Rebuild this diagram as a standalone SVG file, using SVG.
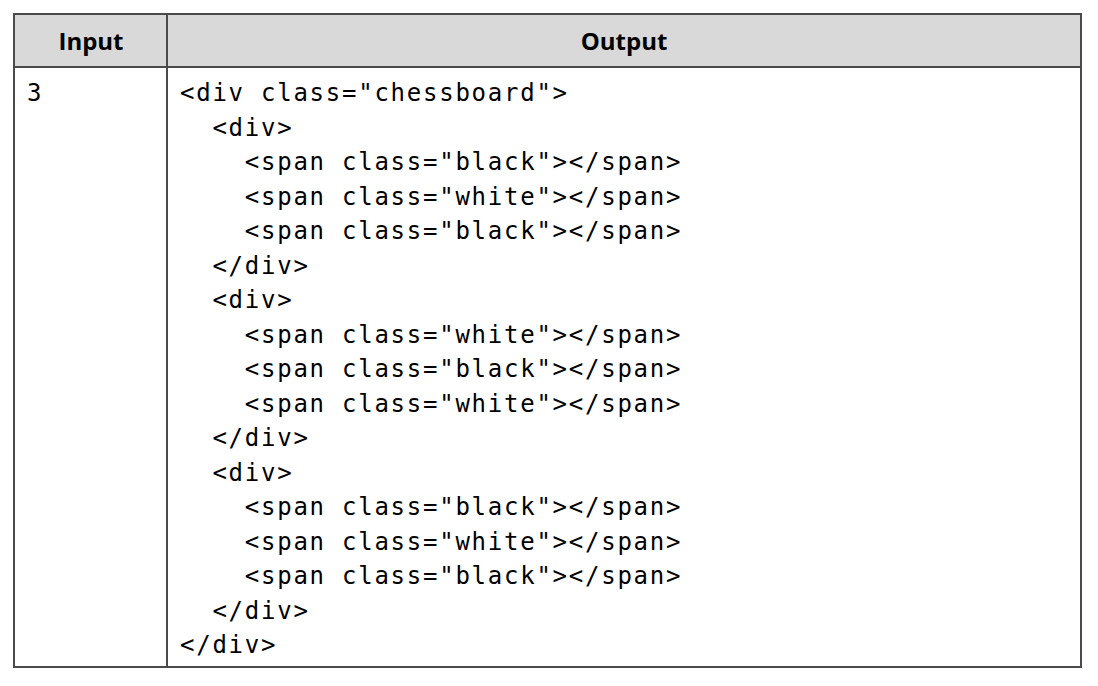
<svg xmlns="http://www.w3.org/2000/svg" width="1098" height="686" viewBox="0 0 1098 686">
<style>
.code{font-family:"DejaVu Sans Mono","Liberation Mono",monospace;font-size:24px;letter-spacing:1.75px;fill:#000}
.hd{font-family:"Open Sans","Noto Sans",sans-serif;font-size:24px;font-weight:bold;fill:#000;text-anchor:middle}
.ln{stroke:#4a4a4a;stroke-width:2;fill:none}
</style>
<rect x="0" y="0" width="1098" height="686" fill="#fff"/>
<g id="header">
<rect x="14" y="14" width="1067" height="53" fill="#d9d9d9"/>
<text class="hd" x="91" y="50">Input</text>
<text class="hd" x="624" y="50">Output</text>
</g>
<g id="grid">
<rect class="ln" x="14" y="14" width="1067" height="653"/>
<line class="ln" x1="14" y1="67" x2="1081" y2="67"/>
<line class="ln" x1="167" y1="14" x2="167" y2="667"/>
</g>
<g id="input">
<text class="code" x="27" y="101">3</text>
</g>
<g id="output">
<text class="code" x="180" y="101">&lt;div class="chessboard"&gt;</text>
<text class="code" x="212.4" y="135.5">&lt;div&gt;</text>
<text class="code" x="244.8" y="170">&lt;span class="black"&gt;&lt;/span&gt;</text>
<text class="code" x="244.8" y="204.5">&lt;span class="white"&gt;&lt;/span&gt;</text>
<text class="code" x="244.8" y="239">&lt;span class="black"&gt;&lt;/span&gt;</text>
<text class="code" x="212.4" y="273.5">&lt;/div&gt;</text>
<text class="code" x="212.4" y="308">&lt;div&gt;</text>
<text class="code" x="244.8" y="342.5">&lt;span class="white"&gt;&lt;/span&gt;</text>
<text class="code" x="244.8" y="377">&lt;span class="black"&gt;&lt;/span&gt;</text>
<text class="code" x="244.8" y="411.5">&lt;span class="white"&gt;&lt;/span&gt;</text>
<text class="code" x="212.4" y="446">&lt;/div&gt;</text>
<text class="code" x="212.4" y="480.5">&lt;div&gt;</text>
<text class="code" x="244.8" y="515">&lt;span class="black"&gt;&lt;/span&gt;</text>
<text class="code" x="244.8" y="549.5">&lt;span class="white"&gt;&lt;/span&gt;</text>
<text class="code" x="244.8" y="584">&lt;span class="black"&gt;&lt;/span&gt;</text>
<text class="code" x="212.4" y="618.5">&lt;/div&gt;</text>
<text class="code" x="180" y="653">&lt;/div&gt;</text>
</g>
</svg>
